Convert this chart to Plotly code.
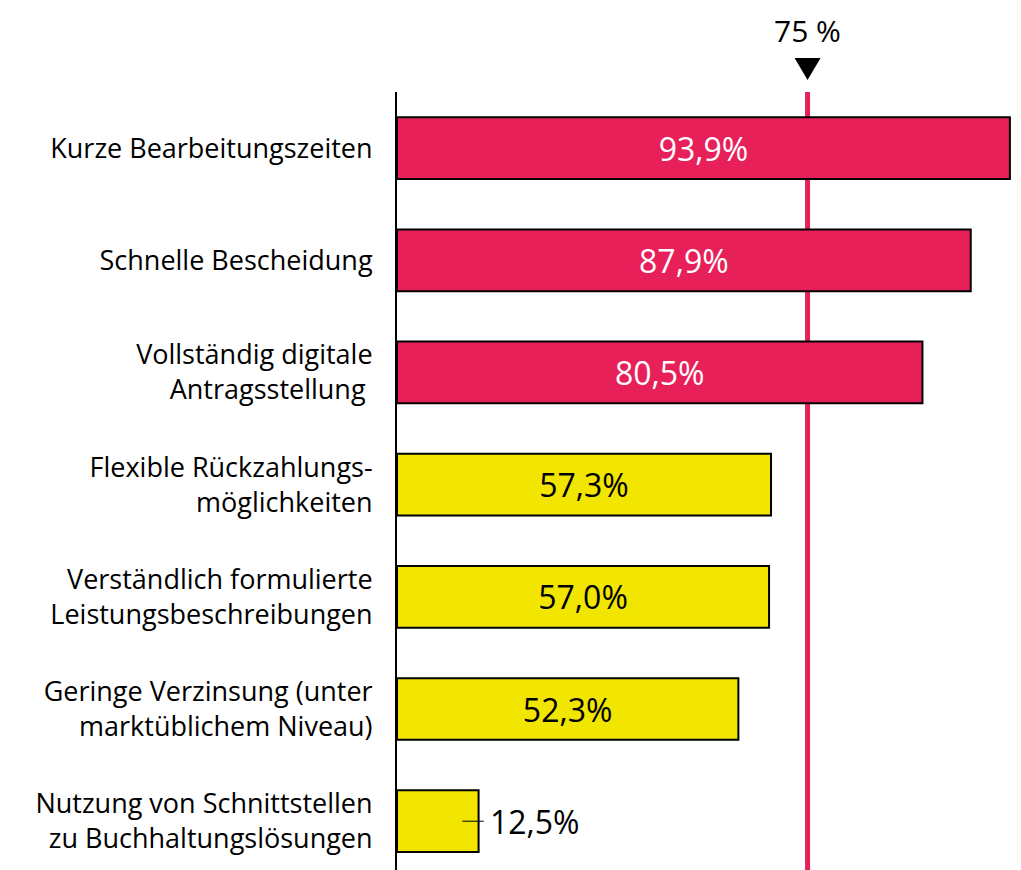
import plotly.graph_objects as go

categories = [
    "Kurze Bearbeitungszeiten",
    "Schnelle Bescheidung",
    "Vollständig digitale<br>Antragsstellung ",
    "Flexible Rückzahlungs-<br>möglichkeiten",
    "Verständlich formulierte<br>Leistungsbeschreibungen",
    "Geringe Verzinsung (unter<br>marktüblichem Niveau)",
    "Nutzung von Schnittstellen<br>zu Buchhaltungslösungen",
]
values = [93.9, 87.9, 80.5, 57.3, 57.0, 52.3, 12.5]
value_labels = ["93,9%", "87,9%", "80,5%", "57,3%", "57,0%", "52,3%", "\u00a012,5%"]
bar_colors = ["#E8205A", "#E8205A", "#E8205A", "#F2E500", "#F2E500", "#F2E500", "#F2E500"]
text_colors = ["white", "white", "white", "black", "black", "black", "black"]
text_positions = ["inside"] * 6 + ["outside"]

threshold_label = "75 %"
threshold_pos = 62.9  # position of the marker line on the bar scale, as drawn

RED = "#E8205A"
FONT = "'Open Sans', Lato, sans-serif"

fig = go.Figure()
fig.add_trace(go.Bar(
    y=categories,
    x=values,
    orientation="h",
    marker=dict(color=bar_colors, line=dict(color="black", width=2)),
    width=0.55,
    text=value_labels,
    textposition=text_positions,
    insidetextanchor="middle",
    textangle=0,
    constraintext="none",
    textfont=dict(size=32, color=text_colors, family=FONT),
    outsidetextfont=dict(size=32, color="black", family=FONT),
    cliponaxis=False,
    hoverinfo="skip",
))

# threshold line
fig.add_shape(type="line", xref="x", yref="paper", x0=threshold_pos, x1=threshold_pos,
              y0=0, y1=1, line=dict(color=RED, width=5), layer="below")
# triangle marker
fig.add_shape(type="path", xref="x", yref="paper", xsizemode="pixel", ysizemode="pixel",
              xanchor=threshold_pos, yanchor=1,
              path="M -13,34 L 13,34 L 0,12 Z", fillcolor="black", line=dict(width=0))
fig.add_annotation(x=threshold_pos, xref="x", y=1, yref="paper", yshift=62,
                   text=threshold_label, showarrow=False,
                   font=dict(size=30, color="black", family=FONT),
                   xanchor="center", yanchor="middle", borderpad=0)

# leader line for the outside label
v = values[-1]
fig.add_shape(type="line", xref="x", yref="y", x0=v - 2.5, x1=v + 0.8,
              y0=categories[-1], y1=categories[-1], line=dict(color="black", width=1))

fig.update_layout(
    width=1021, height=870,
    margin=dict(l=389, r=8, t=84, b=8),
    paper_bgcolor="white", plot_bgcolor="white",
    showlegend=False,
    font=dict(family=FONT, size=27, color="black"),
    xaxis=dict(range=[0, 95.6], visible=False, fixedrange=True),
    yaxis=dict(categoryorder="array", categoryarray=categories,
               range=[6.435, -0.5], showline=True, linecolor="black", linewidth=2,
               showgrid=False, ticks="", ticklabelstandoff=17,
               tickfont=dict(size=27, family=FONT, color="black"), fixedrange=True),
)

fig.write_html("out.html")
